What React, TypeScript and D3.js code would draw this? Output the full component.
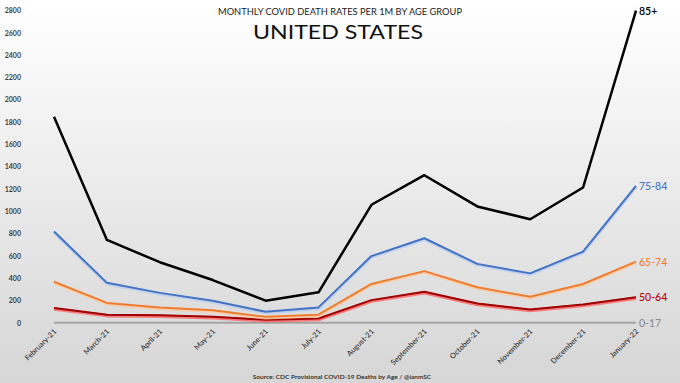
import React from "react";
import * as d3 from "d3";

const months = ["February-21","March-21","April-21","May-21","June-21","July-21","August-21","September-21","October-21","November-21","December-21","January-22"];
const age85 = [1850, 745, 545, 385, 200, 275, 1060, 1325, 1045, 930, 1215, 2800];
const age7584 = [820, 360, 270, 200, 100, 140, 600, 760, 530, 445, 640, 1230];
const age6574 = [370, 180, 140, 115, 55, 75, 350, 465, 320, 235, 350, 550];
const age5064 = [135, 75, 70, 55, 30, 40, 205, 280, 175, 120, 165, 230];
const age017 = [2, 2, 2, 2, 2, 2, 2, 2, 2, 2, 2, 2];
const yTicks = [0, 200, 400, 600, 800, 1000, 1200, 1400, 1600, 1800, 2000, 2200, 2400, 2600, 2800];

const series = [
  { name: "0-17", values: age017, color: "#a5a5a5", glow: null, width: 2 },
  { name: "50-64", values: age5064, color: "#9e0000", glow: "#ff5a5a", width: 2 },
  { name: "65-74", values: age6574, color: "#ed7d31", glow: "#ffc99e", width: 2 },
  { name: "75-84", values: age7584, color: "#4472c4", glow: "#b9cdf0", width: 2 },
  { name: "85+", values: age85, color: "#000000", glow: null, width: 2.5 },
];
const labelColors: Record<string, string> = {
  "0-17": "#8c8c8c", "50-64": "#b00000", "65-74": "#ed7d31", "75-84": "#4472c4", "85+": "#000000",
};

export default function App() {
  const W = 680, H = 383;
  const x = d3.scalePoint<string>().domain(months).range([54, 636]);
  const y = d3.scaleLinear().domain([0, 2800]).range([323, 10.7]);
  const line = d3.line<number>().x((_, i) => x(months[i])!).y(d => y(d));
  const font = "Lato, 'Open Sans', sans-serif";
  return (
    <svg width={W} height={H} style={{ position: "absolute", left: 0, top: 0 }} fontFamily={font}>
      <defs>
        <linearGradient id="bg" x1="0" y1="0" x2="0" y2="1">
          <stop offset="0" stopColor="#ffffff" />
          <stop offset="1" stopColor="#d6d6d6" />
        </linearGradient>
      </defs>
      <rect x={0} y={0} width={W} height={H} fill="url(#bg)" />
      <text x={340} y={15} textAnchor="middle" fontSize={9} fill="#222" textLength={244} lengthAdjust="spacingAndGlyphs">MONTHLY COVID DEATH RATES PER 1M BY AGE GROUP</text>
      <text x={338} y={39} textAnchor="middle" fontSize={19} fill="#111" textLength={170} lengthAdjust="spacingAndGlyphs">UNITED STATES</text>
      {yTicks.map(t => (
        <text key={t} x={21} y={y(t) + 2.5} textAnchor="end" fontSize={7} fontWeight={700} fill="#404040">{t}</text>
      ))}
      {months.map(m => (
        <text key={m} transform={`translate(${x(m)! + 3},${332}) rotate(-45)`} textAnchor="end" fontSize={7.5} fontWeight={600} fill="#404040">{m}</text>
      ))}
      {series.map(s => (
        <g key={s.name}>
          {s.glow && <path d={line(s.values)!} transform="translate(0,1)" fill="none" stroke={s.glow} strokeWidth={s.width + 1.5} strokeLinejoin="round" opacity={0.75} />}
          <path d={line(s.values)!} fill="none" stroke={s.color} strokeWidth={s.width} strokeLinejoin="round" />
          <text x={639} y={y(s.values[s.values.length - 1]) + 4} fontSize={10.5} fill={labelColors[s.name]} fontWeight={s.name === "85+" ? 600 : 500}>{s.name}</text>
        </g>
      ))}
      <text x={342} y={379} textAnchor="middle" fontSize={6.5} fontWeight={600} fill="#222">Source: CDC Provisional COVID-19 Deaths by Age / @ianmSC</text>
    </svg>
  );
}
